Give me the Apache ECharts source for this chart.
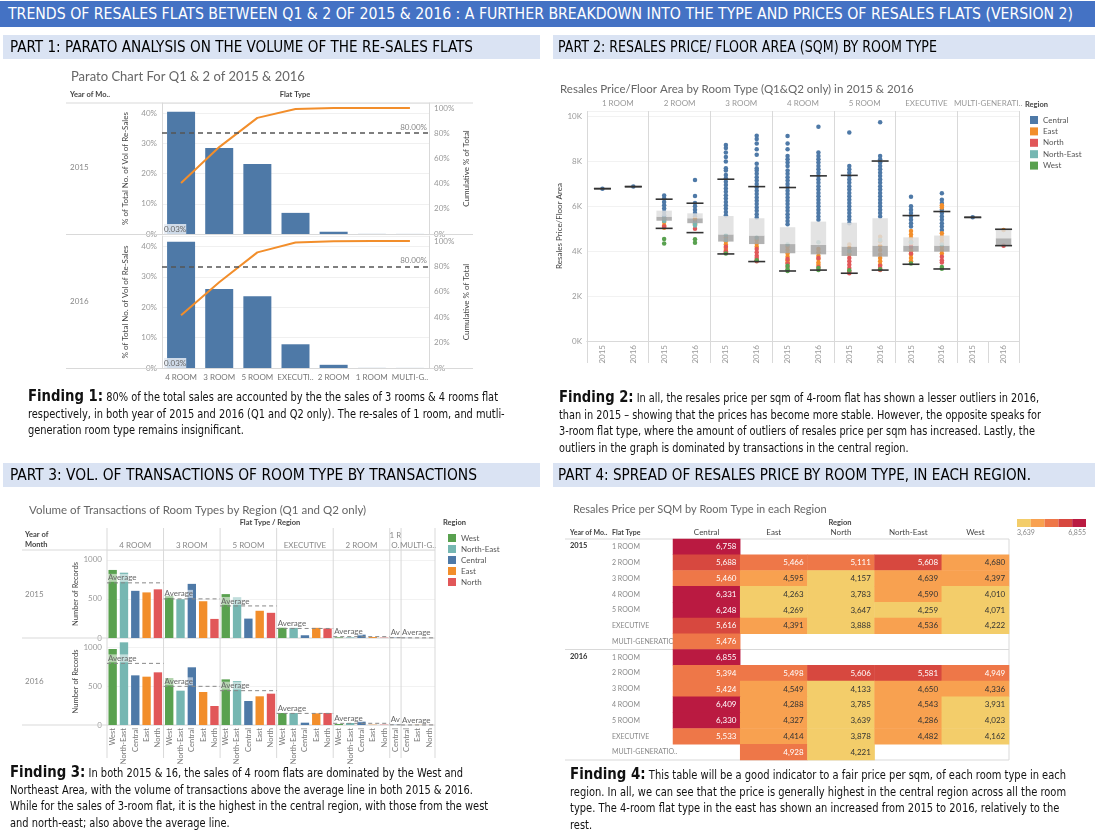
<!DOCTYPE html>
<html><head><meta charset="utf-8">
<script src="https://cdn.jsdelivr.net/npm/echarts@6/dist/echarts.min.js"></script>
<style>
html,body{margin:0;padding:0;background:#fff}
body{width:1100px;height:836px;position:relative;overflow:hidden}
#chart{position:absolute;left:0;top:0;width:1100px;height:836px}
.ov{position:absolute;white-space:nowrap;pointer-events:none}
.nar{font-family:'Liberation Sans Narrow','DejaVu Sans Condensed','Liberation Sans',sans-serif}
.banner{left:0;top:1px;width:1095px;height:26px;background:#4472C4}
.bt{top:1px;line-height:26px;font-size:15px;color:#fff;transform-origin:left center}
.hb{height:24px;background:#DAE3F3}
.ht{line-height:24px;font-size:15px;color:#000;transform-origin:left center}
.para{font-size:11.5px;line-height:16.6px;color:#111;transform-origin:left top}
.para b{font-size:15.5px;font-weight:bold}
</style></head><body>
<div id="chart"></div>
<div class="ov banner"></div>
<div class="ov bt nar" style="left:8px" data-w="1065">TRENDS OF RESALES FLATS BETWEEN Q1 &amp; 2 OF 2015 &amp; 2016 : A FURTHER BREAKDOWN INTO THE TYPE AND PRICES OF RESALES FLATS (VERSION 2)</div>
<div class="ov hb" style="left:3px;top:35px;width:537px"></div>
<div class="ov hb" style="left:553px;top:35px;width:542px"></div>
<div class="ov hb" style="left:3px;top:463px;width:537px"></div>
<div class="ov hb" style="left:553px;top:463px;width:542px"></div>
<div class="ov ht nar" style="left:10px;top:35px" data-w="463">PART 1: PARATO ANALYSIS ON THE VOLUME OF THE RE-SALES FLATS</div>
<div class="ov ht nar" style="left:558px;top:35px" data-w="379">PART 2: RESALES PRICE/ FLOOR AREA (SQM) BY ROOM TYPE</div>
<div class="ov ht nar" style="left:10px;top:463px" data-w="467">PART 3: VOL. OF TRANSACTIONS OF ROOM TYPE BY TRANSACTIONS</div>
<div class="ov ht nar" style="left:558px;top:463px" data-w="473">PART 4: SPREAD OF RESALES PRICE BY ROOM TYPE, IN EACH REGION.</div>

<div class="ov para nar" style="left:28px;top:388px" data-pw="470"><span class="ln"><b>Finding 1:</b> 80% of the total sales are accounted by the the sales of 3 rooms &amp; 4 rooms flat</span><br><span>respectively, in both year of 2015 and 2016 (Q1 and Q2 only). The re-sales of 1 room, and mutli-</span><br><span>generation room type remains insignificant.</span></div>
<div class="ov para nar" style="left:559px;top:389px" data-pw="480"><span class="ln"><b>Finding 2:</b> In all, the resales price per sqm of 4-room flat has shown a lesser outliers in 2016,</span><br><span>than in 2015 – showing that the prices has become more stable. However, the opposite speaks for</span><br><span>3-room flat type, where the amount of outliers of resales price per sqm has increased. Lastly, the</span><br><span>outliers in the graph is dominated by transactions in the central region.</span></div>
<div class="ov para nar" style="left:10px;top:764px" data-pw="453"><span class="ln"><b>Finding 3:</b> In both 2015 &amp; 16, the sales of 4 room flats are dominated by the West and</span><br><span>Northeast Area, with the volume of transactions above the average line in both 2015 &amp; 2016.</span><br><span>While for the sales of 3-room flat, it is the highest in the central region, with those from the west</span><br><span>and north-east; also above the average line.</span></div>
<div class="ov para nar" style="left:570px;top:766px" data-pw="496"><span class="ln"><b>Finding 4:</b> This table will be a good indicator to a fair price per sqm, of each room type in each</span><br><span>region. In all, we can see that the price is generally highest in the central region across all the room</span><br><span>type. The 4-room flat type in the east has shown an increased from 2015 to 2016, relatively to the</span><br><span>rest.</span></div>

<script>
// ---------------- DATA ----------------
// Part 1: Pareto
const p1Types = ['4 ROOM','3 ROOM','5 ROOM','EXECUTI..','2 ROOM','1 ROOM','MULTI-G..'];
const p1Share2015 = [40.5, 28.5, 23.2, 7.0, 0.75, 0.03, 0.02];
const p1Share2016 = [41.5, 26.0, 23.6, 7.8, 1.05, 0.03, 0.02];
const p1Cum2015 = [40.5, 69.0, 92.2, 99.2, 99.95, 99.98, 100];
const p1Cum2016 = [41.5, 67.5, 91.1, 98.9, 99.95, 99.98, 100];

// Part 2: box plots (Resales price / floor area)
const p2Rooms = ['1 ROOM','2 ROOM','3 ROOM','4 ROOM','5 ROOM','EXECUTIVE','MULTI-GENERATI..'];
const p2Years = ['2015','2016','2015','2016','2015','2016','2015','2016','2015','2016','2015','2016','2015','2016'];
// [low whisker, Q1, median, Q3, high whisker]
const p2Box = [
  [6790,6790,6790,6790,6790],[6880,6880,6880,6880,6880],
  [5020,5360,5540,5810,6320],[4830,5250,5470,5690,6140],
  [3880,4430,4750,5570,7210],[3540,4320,4700,5470,6880],
  [3120,3910,4320,5070,6840],[3160,3860,4280,5320,7360],
  [3020,3790,4210,5270,7380],[3160,3760,4250,5470,8020],
  [3420,3980,4250,4620,5590],[3210,3980,4250,4700,5770],
  [5510,5510,5510,5510,5510],[4250,4250,4580,4950,4980]
];
const p2Central = [
  [6790],[6880],
  [6480,6350,6200,6050,5900,5750,5600,5500,5420],
  [7180,6460,6150,6000,5850,5700,5550,5400,5300],
  [8740,8600,8400,8200,8000,7700,7600,7400,7250,7100,6950,6800,6650,6500,6350,6200,6050,5900,5750,5600],
  [9150,9000,8800,8550,8300,7900,7700,7600,7450,7300,7150,7000,6850,6700,6550,6400,6250,6100,5950,5800,5650,5500],
  [9140,8800,8550,8250,8100,7950,7800,7600,7450,7300,7150,7000,6850,6700,6550,6400,6250,6100,5950,5800,5650,5500,5350,5200],
  [9550,8400,8250,8100,7950,7800,7650,7500,7350,7200,7050,6900,6750,6600,6450,6300,6150,6000,5850,5700,5550,5400],
  [9290,7800,7650,7500,7350,7200,7050,6900,6750,6600,6450,6300,6150,6000,5850,5700,5550,5400,5250],
  [9750,8250,8100,7950,7800,7650,7500,7350,7200,7050,6900,6750,6600,6450,6300,6150,6000,5850,5700,5550],
  [6430,6000,5850,5700,5550,5400,5250,5100],
  [6580,6300,6150,5850,5700,5550,5400,5250,5100,4950],
  [5510],[]
];
const p2East = [
  [],[],[5300,5150,5050],[5450,5200],
  [4600,4450,4300,4150,4050],[4500,4350,4200],
  [4200,4050,3900,3750,3600,3500],[4100,3950,3800,3650,3500,3400],
  [4300,4150,4000,3850],[4650,4450,4250,4050,3850,3700,3550,3400],
  [4900,4750,4600,4450,4300,4150,4000,3850,3700,3550],[6050,5950,4800,4650,4500,4350,4200,4050,3900],
  [],[4950]
];
const p2North = [
  [],[],[5100],[5000],[4200,4000,3950],[4100,3950,3800,3700,3600,3550],
  [3650,3450,3300],[3700,3300],[3700,3550,3400,3250,3100,3020],[3350,3250,3160],
  [4200,3900],[3750,3600,3500],[],[4250]
];
const p2NorthEast = [[],[],[5450,5350],[5250,5150],[4700,4500],[4600],[4300],[4400],[4000],[4500],[4400],[4300],[],[]];
const p2West = [[],[],[4550,4350],[4530,4380],[3900],[3600],[3350,3200,3120],[3250,3160],[3150],[3200],[3450],[3300,3220],[],[]];

// Part 3: volume of transactions by flat type / region
const p3Types = ['4 ROOM','3 ROOM','5 ROOM','EXECUTIVE','2 ROOM','1 R\nO.','MULTI-G..'];
const p3GroupSize = [5,5,5,5,5,1,3];
const p3Regions = ['West','North-East','Central','East','North','West','North-East','Central','East','North',
  'West','North-East','Central','East','North','West','North-East','Central','East','North',
  'West','North-East','Central','East','North','Central','Central','East','North'];
const p3Vol2015 = [870,835,603,583,622, 539,496,692,470,244, 561,522,248,348,322, 132,130,35,130,122, 8,8,43,12,4, 4, 2,0,0];
const p3Vol2016 = [983,1069,642,625,681, 608,444,746,427,246, 590,569,310,371,405, 155,155,30,151,155, 13,26,43,4,4, 3, 0,2,1];
const p3Avg2015 = [705, 500, 410, 122, 17, 4, 2];
const p3Avg2016 = [797, 500, 444, 150, 22, 3, 1];

// Part 4: price per sqm heatmap
const p4Regions = ['Central','East','North','North-East','West'];
const p4Types = ['1 ROOM','2 ROOM','3 ROOM','4 ROOM','5 ROOM','EXECUTIVE','MULTI-GENERATIO..'];
const p4Price2015 = [
  [6758,null,null,null,null],
  [5688,5466,5111,5608,4680],
  [5460,4595,4157,4639,4397],
  [6331,4263,3783,4590,4010],
  [6248,4269,3647,4259,4071],
  [5616,4391,3888,4536,4222],
  [5476,null,null,null,null]
];
const p4Price2016 = [
  [6855,null,null,null,null],
  [5394,5498,5606,5581,4949],
  [5424,4549,4133,4650,4336],
  [6409,4288,3785,4543,3931],
  [6330,4327,3639,4286,4023],
  [5533,4414,3878,4482,4162],
  [null,4928,4221,null,null]
];
const p4Legend = ['3,639','6,855'];

// ---------------- STYLE ----------------
const FONT = 'Lato, "Noto Sans", sans-serif';
const RC = {Central:'#4E79A7', East:'#F28E2B', North:'#E15759', 'North-East':'#76B7B2', West:'#59A14F'};
const HEAT = ['#F3CD6A','#F8A150','#EE7748','#D7483F','#BA1A41'];
const HEAT_BREAKS = [3639,4282,4925,5568,6212,6855];
const GRID_LINE = '#d9d9d9';

function T(x,y,text,o){o=o||{};return {type:'text',x:x,y:y,silent:true,z:10,style:{text:text,fontSize:o.fs||8,fill:o.c||'#555',fontFamily:FONT,fontWeight:o.fw||'normal',align:o.a||'left',textAlign:o.a||'left',verticalAlign:'middle',textVerticalAlign:'middle',lineHeight:o.lh||10,backgroundColor:o.bg||'transparent'}};}
function L(x1,y1,x2,y2,c){return {type:'line',silent:true,z:1,shape:{x1:x1,y1:y1,x2:x2,y2:y2},style:{stroke:c||GRID_LINE,lineWidth:1}};}

const series = [];
// Part 1
[[p1Share2015,p1Cum2015],[p1Share2016,p1Cum2016]].forEach((d,i)=>{
  series.push({type:'bar',xAxisIndex:i,yAxisIndex:i*2,data:d[0],barWidth:28,itemStyle:{color:'#4E79A7'},silent:true});
  series.push({type:'line',xAxisIndex:i,yAxisIndex:i*2+1,data:d[1],symbol:'none',lineStyle:{color:'#F28E2B',width:2},silent:true,z:4,
    markLine:{silent:true,symbol:'none',data:[{yAxis:80}],lineStyle:{color:'#555',type:[5,4],width:1.5},
      label:{formatter:'80.00%',position:'insideEndTop',color:'#888',fontSize:8,distance:2}}});
});

// Part 2
function boxRender(params, api){
  const x = api.value(0);
  const lo = api.coord([x, api.value(1)]), q1 = api.coord([x, api.value(2)]), md = api.coord([x, api.value(3)]),
        q3 = api.coord([x, api.value(4)]), hi = api.coord([x, api.value(5)]);
  const band = api.size([1,0])[0];
  const bw = band*0.5, cw = band*0.55, cx = lo[0];
  const ch = [];
  if (q1[1]-md[1] > 0.5) ch.push({type:'rect',shape:{x:cx-bw/2,y:md[1],width:bw,height:q1[1]-md[1]},style:{fill:'rgba(165,165,165,0.85)'}});
  if (md[1]-q3[1] > 0.5) ch.push({type:'rect',shape:{x:cx-bw/2,y:q3[1],width:bw,height:md[1]-q3[1]},style:{fill:'rgba(222,222,222,0.85)'}});
  ch.push({type:'line',shape:{x1:cx-cw/2,y1:lo[1],x2:cx+cw/2,y2:lo[1]},style:{stroke:'#333',lineWidth:1.6}});
  ch.push({type:'line',shape:{x1:cx-cw/2,y1:hi[1],x2:cx+cw/2,y2:hi[1]},style:{stroke:'#333',lineWidth:1.6}});
  return {type:'group',children:ch};
}
[['Central',p2Central],['East',p2East],['North',p2North],['North-East',p2NorthEast],['West',p2West]].forEach(([name,arr])=>{
  const data=[]; arr.forEach((vals,ci)=>vals.forEach(v=>data.push([ci,v])));
  series.push({type:'scatter',name:name,xAxisIndex:3,yAxisIndex:4,data:data,symbolSize:4.5,itemStyle:{color:RC[name],opacity:1},silent:true,z:2});
});
series.push({type:'custom',xAxisIndex:3,yAxisIndex:4,renderItem:boxRender,data:p2Box.map((b,i)=>[i].concat(b)),silent:true,z:3,
  encode:{x:0,y:[1,2,3,4,5]}});

// Part 3
const p3Order = ['West','North-East','Central','East','North'];
[[p3Vol2015,4,5,'s15'],[p3Vol2016,5,6,'s16']].forEach(([vals,xi,yi,st])=>{
  p3Order.forEach(r=>{
    series.push({type:'bar',name:r,xAxisIndex:xi,yAxisIndex:yi,stack:st,barCategoryGap:'26%',silent:true,z:2,
      itemStyle:{color:RC[r]},data:p3Regions.map((rg,i)=>rg===r?vals[i]:'-')});
  });
});
const p3Spans = []; {let s=0; p3GroupSize.forEach((n,gi)=>{p3Spans.push([s,s+n-1,gi]); s+=n;});}
function avgRender(avgs){
  return function(params, api){
    const s=api.value(0), e=api.value(1), gi=api.value(2);
    const band=api.size([1,0])[0];
    const x0=api.coord([s,0])[0]-band/2, x1=api.coord([e,0])[0]+band/2;
    const y=api.coord([s,avgs[gi]])[1];
    return {type:'group',children:[
      {type:'line',shape:{x1:x0,y1:y,x2:x1,y2:y},style:{stroke:'#888',lineWidth:1,lineDash:[4,3]}},
      {type:'text',x:x0+1,y:y-1,style:{text:(x1-x0)<20?'Av':'Average',fontSize:8,fontFamily:FONT,fill:'#666',
        align:'left',textAlign:'left',verticalAlign:'bottom',textVerticalAlign:'bottom',backgroundColor:'rgba(255,255,255,0.55)'}}
    ]};
  };
}
series.push({type:'custom',xAxisIndex:4,yAxisIndex:5,renderItem:avgRender(p3Avg2015),data:p3Spans,silent:true,z:5,encode:{x:0}});
series.push({type:'custom',xAxisIndex:5,yAxisIndex:6,renderItem:avgRender(p3Avg2016),data:p3Spans,silent:true,z:5,encode:{x:0}});
// headers + separators
series.push({type:'custom',xAxisIndex:4,yAxisIndex:5,silent:true,z:1,data:p3Spans,encode:{x:0},
  renderItem:function(params, api){
    const s=api.value(0), e=api.value(1), gi=api.value(2);
    const band=api.size([1,0])[0];
    const x0=api.coord([s,0])[0]-band/2, x1=api.coord([e,0])[0]+band/2;
    const ch=[
      {type:'text',x:(x0+x1)/2,y:gi===5?540:545,style:{text:p3Types[gi],fontSize:8,fontFamily:FONT,fill:'#888',lineHeight:10,
        align:'center',textAlign:'center',verticalAlign:'middle',textVerticalAlign:'middle'}},
      {type:'line',shape:{x1:x1,y1:528,x2:x1,y2:758},style:{stroke:GRID_LINE,lineWidth:1}}
    ];
    if (gi===0) ch.push({type:'line',shape:{x1:x0,y1:528,x2:x0,y2:758},style:{stroke:GRID_LINE,lineWidth:1}});
    return {type:'group',children:ch};
  }});

// Part 4 heatmap
const heatData=[];
[p4Price2015,p4Price2016].forEach((tbl,yi)=>tbl.forEach((row,ri)=>row.forEach((v,ci)=>{
  if(v!=null) heatData.push({value:[ci,yi*7+ri,v],label:{color:v>=HEAT_BREAKS[2]?'#fff':'#333'}});
})));
const heatIndex = series.length;
series.push({type:'heatmap',xAxisIndex:6,yAxisIndex:7,data:heatData,silent:true,
  label:{show:true,position:'insideRight',distance:4,fontSize:8,fontFamily:FONT,formatter:p=>p.value[2].toLocaleString('en-US')},
  itemStyle:{borderWidth:0}});

const pctAxis = (grid,max,pos,name)=>({type:'value',gridIndex:grid,min:0,max:max,interval:pos==='left'?10:20,position:pos,
  name:name,nameLocation:'middle',nameGap:33,nameTextStyle:{fontSize:8,color:'#444',fontFamily:FONT},
  axisLine:{show:true,lineStyle:{color:GRID_LINE}},axisTick:{show:false},
  axisLabel:{fontSize:8,color:'#999',formatter:'{value}%',showMaxLabel:false,margin:5},
  splitLine:{show:pos==='left',lineStyle:{color:'#f0f0f0'}}});
const cntAxis = (grid)=>({type:'value',gridIndex:grid,min:0,max:1125,interval:500,name:'Number of Records',nameLocation:'middle',nameGap:27,
  nameTextStyle:{fontSize:7.5,color:'#444'},axisLine:{show:false},axisTick:{show:false},
  axisLabel:{fontSize:8,color:'#999',showMaxLabel:false,margin:5,formatter:v=>String(v)},splitLine:{lineStyle:{color:'#f2f2f2'}}});

const option = {
  animation:false,
  textStyle:{fontFamily:FONT},
  title:[
    {text:'Parato Chart For Q1 & 2 of 2015 & 2016',left:66,top:65,textStyle:{fontSize:13,color:'#666',fontWeight:'normal',fontFamily:FONT}},
    {text:'Resales Price/Floor Area by Room Type (Q1&Q2 only) in 2015 & 2016',left:555,top:78,textStyle:{fontSize:11.5,color:'#666',fontWeight:'normal',fontFamily:FONT}},
    {text:'Volume of Transactions of Room Types by Region (Q1 and Q2 only)',left:24,top:499,textStyle:{fontSize:11.5,color:'#666',fontWeight:'normal',fontFamily:FONT}},
    {text:'Resales Price per SQM by Room Type in each Region',left:568,top:499,textStyle:{fontSize:11,color:'#666',fontWeight:'normal',fontFamily:FONT}}
  ],
  legend:[
    {data:['Central','East','North','North-East','West'],left:1025,top:111,orient:'vertical',icon:'rect',itemWidth:8,itemHeight:8,itemGap:3.4,
      textStyle:{fontSize:8,color:'#555'},selectedMode:false},
    {data:['West','North-East','Central','East','North'],left:443,top:529,orient:'vertical',icon:'rect',itemWidth:8,itemHeight:8,itemGap:3,
      textStyle:{fontSize:8,color:'#555'},selectedMode:false}
  ],
  visualMap:[{type:'piecewise',show:false,seriesIndex:heatIndex,dimension:2,
    pieces:HEAT.map((c,i)=>({gte:HEAT_BREAKS[i],lt:i===4?HEAT_BREAKS[5]+1:HEAT_BREAKS[i+1],color:c}))}],
  grid:[
    {left:162,top:103,width:267,height:131},
    {left:162,top:236,width:267,height:132},
    {left:587,top:111,width:432,height:230},
    {left:107,top:550,width:328,height:88},
    {left:107,top:638,width:328,height:87},
    {left:673,top:539,width:336,height:221}
  ],
  xAxis:[
    {type:'category',gridIndex:0,data:p1Types,axisLabel:{show:false},axisTick:{show:false},axisLine:{show:false}},
    {type:'category',gridIndex:1,data:p1Types,axisLabel:{fontSize:8,color:'#777',margin:5,interval:0},axisTick:{show:false},axisLine:{show:false}},
    {type:'category',gridIndex:2,position:'top',data:p2Rooms,axisLabel:{fontSize:8,color:'#999',margin:4,interval:0},
      axisTick:{show:true,length:16,lineStyle:{color:GRID_LINE}},axisLine:{show:true,lineStyle:{color:GRID_LINE}},
      splitLine:{show:true,interval:0,lineStyle:{color:GRID_LINE}}},
    {type:'category',gridIndex:2,position:'bottom',data:p2Years,axisLabel:{fontSize:8,color:'#999',rotate:90,margin:4,interval:0},
      axisTick:{show:true,interval:1,length:22,lineStyle:{color:GRID_LINE}},axisLine:{show:true,lineStyle:{color:GRID_LINE}}},
    {type:'category',gridIndex:3,data:p3Regions,axisLabel:{show:false},axisTick:{show:false},axisLine:{show:false}},
    {type:'category',gridIndex:4,data:p3Regions,axisLabel:{fontSize:7.5,color:'#777',rotate:90,margin:3,interval:0},axisTick:{show:false},axisLine:{show:false}},
    {type:'category',gridIndex:5,position:'top',data:p4Regions,axisLabel:{fontSize:8,color:'#444',margin:3},axisTick:{show:false},axisLine:{show:false}}
  ],
  yAxis:[
    pctAxis(0,43.4,'left','% of Total No. of Vol of Re-Sales'),
    pctAxis(0,104,'right','Cumulative % of Total'),
    pctAxis(1,43.4,'left','% of Total No. of Vol of Re-Sales'),
    pctAxis(1,104,'right','Cumulative % of Total'),
    {type:'value',gridIndex:2,min:0,max:10250,interval:2000,name:'Resales Price/Floor Area',nameLocation:'middle',nameGap:24,
      nameTextStyle:{fontSize:8,color:'#444'},axisLine:{show:false},axisTick:{show:false},
      axisLabel:{fontSize:8,color:'#999',showMaxLabel:false,margin:5,formatter:v=>(v/1000)+'K'},splitLine:{lineStyle:{color:'#f2f2f2'}}},
    cntAxis(3),
    cntAxis(4),
    {type:'category',gridIndex:5,inverse:true,data:p4Types.concat(p4Types),axisLabel:{fontSize:7,color:'#888',align:'left',margin:61,interval:0},
      axisTick:{show:false},axisLine:{show:false}}
  ],
  graphic:[
    // Part 1 headers / separators
    T(70,95,'Year of Mo..',{fw:'bold',c:'#444',fs:7.5}), T(295,95,'Flat Type',{fw:'bold',c:'#444',a:'center',fs:7.5}),
    T(70,167,'2015',{c:'#888'}), T(70,301,'2016',{c:'#888'}),
    T(164,229,'0.03%',{c:'#666',bg:'rgba(230,236,245,0.85)'}), T(164,363,'0.03%',{c:'#666',bg:'rgba(230,236,245,0.85)'}),
    L(66,103,473,103), L(66,234.5,473,234.5), L(66,368.5,473,368.5),
    // Part 2
    T(1025,105,'Region',{fw:'bold',c:'#444',fs:7.5}),
    // Part 3
    T(270,523,'Flat Type / Region',{fw:'bold',c:'#444',a:'center',fs:7.5}),
    T(25,540,'Year of\nMonth',{fw:'bold',c:'#444',lh:10,fs:7.5}),
    T(25,594,'2015',{c:'#888'}), T(25,681,'2016',{c:'#888'}),
    T(443,523,'Region',{fw:'bold',c:'#444',fs:7.5}),
    L(22,550,435,550), L(22,638,435,638), L(22,725,435,725),
    // Part 4
    T(840,523,'Region',{fw:'bold',c:'#444',a:'center',fs:7.5}),
    T(570,533,'Year of Mo..',{fw:'bold',c:'#444',fs:7}), T(612,533,'Flat Type',{fw:'bold',c:'#444',fs:7}),
    T(570,546,'2015',{fw:'bold',c:'#333',fs:7.5}), T(570,657,'2016',{fw:'bold',c:'#333',fs:7.5}),
    L(565,539,1009,539), L(565,649.5,1009,649.5), L(565,760,1009,760), L(1009,539,1009,760),
    ...HEAT.map((c,i)=>({type:'rect',silent:true,shape:{x:1017+i*13.8,y:519,width:13.8,height:8},style:{fill:c}})),
    T(1017,533,p4Legend[0],{c:'#888',fs:7}), T(1086,533,p4Legend[1],{c:'#888',fs:7,a:'right'})
  ],
  series:series
};
const chart = echarts.init(document.getElementById('chart'), null, {renderer:'canvas'});
chart.setOption(option);

function fit(){
  document.querySelectorAll('[data-w]').forEach(el=>{
    el.style.transform='none';
    const w=el.getBoundingClientRect().width;
    el.style.transform='scaleX('+(+el.dataset.w/w)+')';
  });
  document.querySelectorAll('[data-pw]').forEach(el=>{
    el.style.transform='none';
    const w=el.querySelector('.ln').getBoundingClientRect().width;
    el.style.transform='scaleX('+(+el.dataset.pw/w)+')';
  });
}
fit();
if (document.fonts && document.fonts.ready) document.fonts.ready.then(fit);
</script>
</body></html>
